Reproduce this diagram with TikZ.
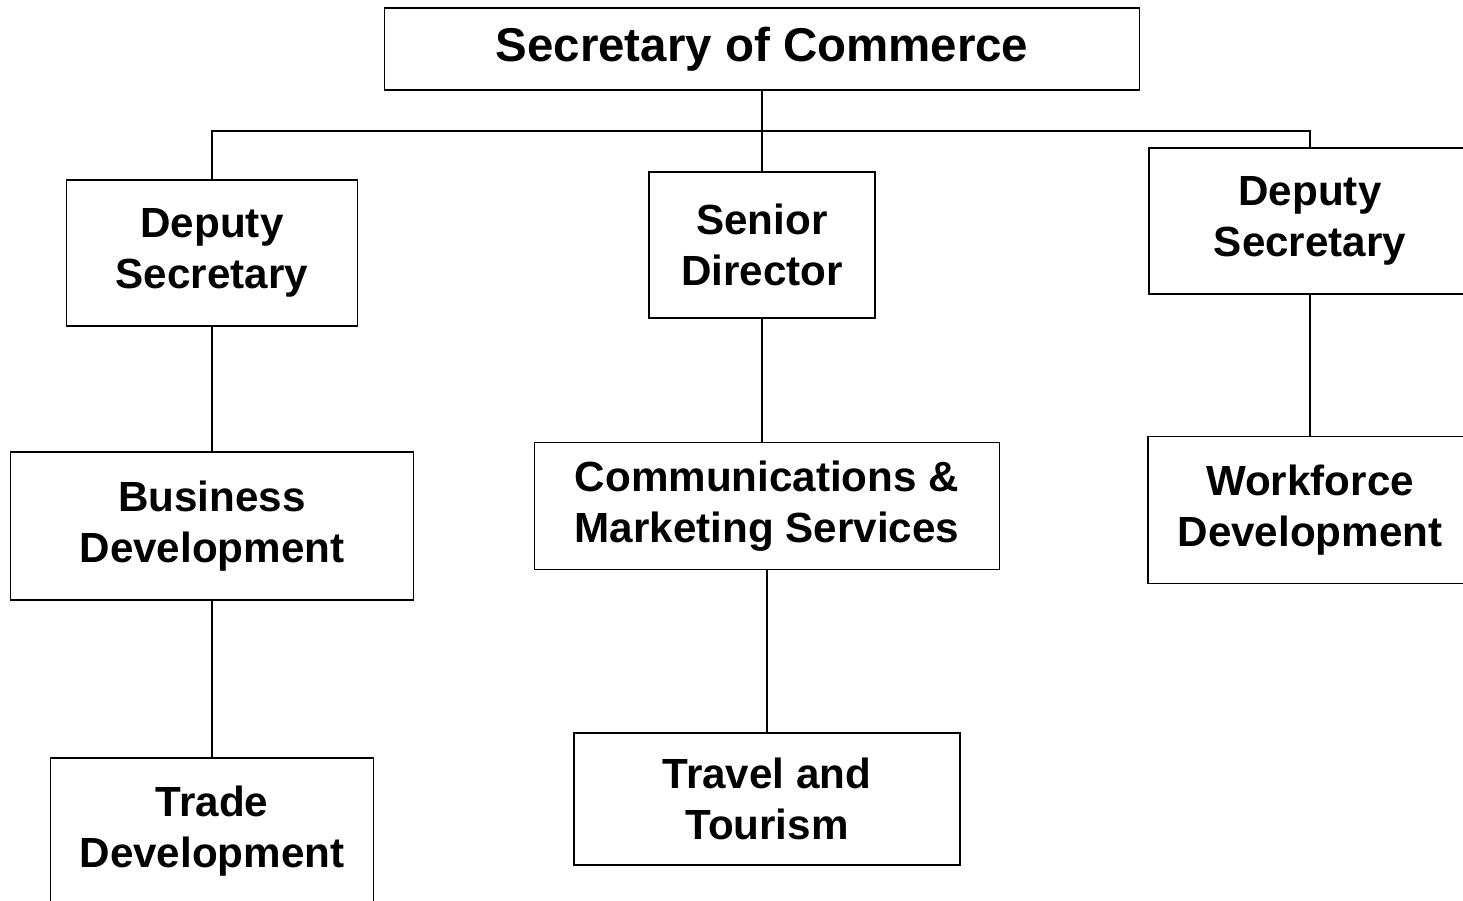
\documentclass[tikz,border=0pt]{standalone}
\usepackage{fontspec}
\setmainfont{Liberation Sans}
\usepackage{tikz}
\tikzstyle{office} = [rectangle, draw=black, line width=1pt, align=center, minimum height=2.92cm, font=\bfseries\fontsize{24}{29}\selectfont]
\tikzstyle{head} = [rectangle, draw=black, line width=1pt, align=center, minimum width=15.1cm, minimum height=1.64cm, font=\bfseries\fontsize{27}{32}\selectfont]
\tikzstyle{link} = [line width=1pt]

\begin{document}
\begin{tikzpicture}
			\useasboundingbox (0,0) rectangle (29.26,-18.02);
			\clip (0,0) rectangle (29.26,-18.02);
			\node (sec) [head] at (15.24,-0.98) {Secretary of Commerce};
			\node (senior) [office, below of=sec, node distance=3.92cm, minimum width=4.52cm] {Senior\\Director};
			\node (comm) [office, below of=senior, node distance=5.22cm, minimum width=9.3cm, minimum height=2.54cm, xshift=0.1cm] {Communications \&\\Marketing Services};
			\node (travel) [office, below of=comm, node distance=5.86cm, minimum width=7.72cm, minimum height=2.64cm] {Travel and\\Tourism};
			\node (depL) [office, left of=senior, node distance=11cm, yshift=-0.16cm, minimum width=5.82cm] {Deputy\\Secretary};
			\node (business) [office, below of=depL, node distance=5.46cm, minimum width=8.06cm, minimum height=2.96cm] {Business\\Development};
			\node (trade) [office, below of=business, node distance=6.1cm, minimum width=6.46cm] {Trade\\Development};
			\node (depR) [office, right of=senior, node distance=10.96cm, yshift=0.48cm, minimum width=6.44cm] {Deputy\\Secretary};
			\node (workforce) [office, below of=depR, node distance=5.78cm, minimum width=6.48cm, minimum height=2.94cm] {Workforce\\Development};
			\coordinate (bus) at ([yshift=-0.8cm]sec.south);

			\draw [link] (sec.south) -- (senior.north);
			\draw [link] (depL.north) |- (bus) -| (depR.north);
			\draw [link] (depL) -- (business);
			\draw [link] (business) -- (trade);
			\draw [link] (senior) -- (senior |- comm.north);
			\draw [link] (comm.south -| travel) -- (travel);
			\draw [link] (depR) -- (workforce);
		\end{tikzpicture}
\end{document}
